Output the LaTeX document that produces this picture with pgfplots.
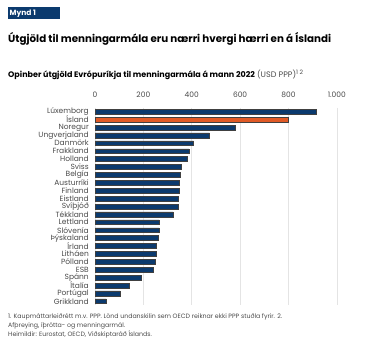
\documentclass[border=0pt]{standalone}
\usepackage{pgfplots}
\pgfplotsset{compat=1.18}
\usepackage{fontspec}
\setmainfont{Poppins}
\definecolor{navy}{HTML}{0B3A6E}
\definecolor{orng}{HTML}{E05A26}
\definecolor{txt}{HTML}{4A4A4A}
\definecolor{gridc}{HTML}{E4E4E4}
\begin{document}
\begin{tikzpicture}[x=1pt,y=1pt]
\useasboundingbox (0,0) rectangle (382,-358);
\fill[navy] (8,-7.5) rectangle (59.5,-19.5);
\node[anchor=west,text=white,font=\fontsize{7.5}{9}\selectfont\bfseries,inner sep=0] at (9.5,-13.5) {Mynd 1};
\node[anchor=west,inner sep=0,font=\fontsize{10.3}{12}\selectfont\bfseries] at (8,-39) {Útgjöld til menningarmála eru nærri hvergi hærri en á Íslandi};
\node[anchor=west,inner sep=0,font=\fontsize{8}{10}\selectfont] at (8,-75) {\textbf{Opinber útgjöld Evrópuríkja til menningarmála á mann 2022} {\color{txt}(USD PPP)\textsuperscript{1 2}}};
\begin{axis}[
  at={(95pt,-305.2pt)}, anchor=south west,
  scale only axis, width=266pt, height=197.5pt,
  xbar, bar shift=0pt, bar width=4.8pt,
  xmin=0, xmax=1100, ymin=-0.5, ymax=24.5, y dir=reverse,
  axis line style={draw=none},
  major tick length=0pt,
  xtick={0,200,400,600,800,1000},
  xticklabel pos=right,
  xmajorgrids, grid style={gridc, line width=0.5pt},
  /pgf/number format/.cd, 1000 sep={.}, assume math mode=true,
  /pgfplots/.cd,
  xticklabel style={font=\fontsize{7.5}{9}\selectfont, text=txt, anchor=center, yshift=12.5pt},
  ytick={0,...,24},
  yticklabels={Lúxemborg,Ísland,Noregur,Ungverjaland,Danmörk,Frakkland,Holland,Sviss,Belgía,Austurríki,Finland,Eistland,Svíþjóð,Tékkland,Lettland,Slóvenía,Þýskaland,Írland,Litháen,Pólland,ESB,Spánn,Ítalía,Portúgal,Grikkland},
  yticklabel style={font=\fontsize{7.5}{7.9}\selectfont, text=txt, anchor=east, inner sep=0pt, xshift=-6pt},
]
\addplot[fill=navy, draw=black!75, line width=0.5pt] coordinates {
(915,0) (580,2) (473,3) (407,4) (388,5) (380,6) (355,7) (353,8) (349,9) (349,10) (346,11) (345,12) (323,13) (265,14) (265,15) (261,16) (254,17) (254,18) (251,19) (241,20) (190,21) (140,22) (104,23) (46,24)
};
\addplot[fill=orng, draw=black!75, line width=0.5pt] coordinates {(798,1)};
\end{axis}
\begin{scope}[font=\fontsize{6.25}{7}\selectfont, text=txt]
\node[anchor=west,inner sep=0] at (8,-316.7) {1. Kaupmáttarleiðrétt m.v. PPP. Lönd undanskilin sem OECD reiknar ekki PPP stuðla fyrir. 2.};
\node[anchor=west,inner sep=0] at (8,-325.5) {Afþreying, íþrótta- og menningarmál.};
\node[anchor=west,inner sep=0] at (8,-334) {Heimildir: Eurostat, OECD, Viðskiptaráð Íslands.};
\end{scope}
\end{tikzpicture}
\end{document}
